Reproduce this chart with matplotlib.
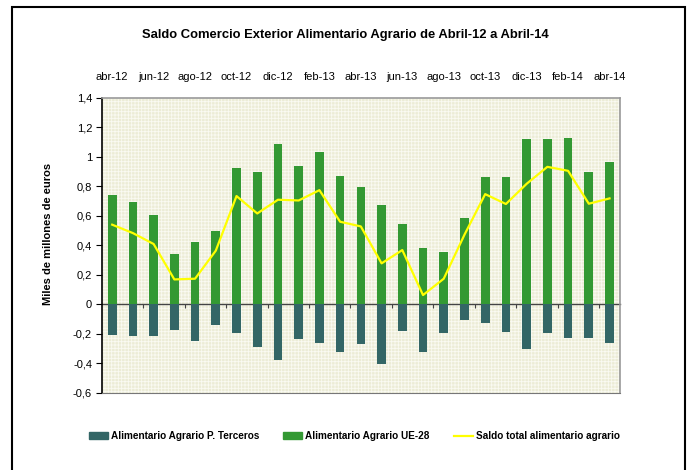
import matplotlib
matplotlib.use("Agg")
import matplotlib.pyplot as plt
from matplotlib.patches import Patch, Rectangle
from matplotlib.lines import Line2D
import numpy as np

# Meses (abr-12 .. abr-14)
meses = ["abr-12", "may-12", "jun-12", "jul-12", "ago-12", "sep-12", "oct-12", "nov-12",
         "dic-12", "ene-13", "feb-13", "mar-13", "abr-13", "may-13", "jun-13", "jul-13",
         "ago-13", "sep-13", "oct-13", "nov-13", "dic-13", "ene-14", "feb-14", "mar-14",
         "abr-14"]

# Miles de millones de euros
ue28 = [0.743, 0.695, 0.607, 0.343, 0.424, 0.499, 0.926, 0.899, 1.088, 0.939, 1.034, 0.872,
        0.797, 0.675, 0.546, 0.384, 0.357, 0.587, 0.865, 0.865, 1.122, 1.122, 1.129, 0.899,
        0.966]
terceros = [-0.205, -0.212, -0.212, -0.172, -0.246, -0.138, -0.192, -0.287, -0.375, -0.233,
            -0.260, -0.321, -0.266, -0.402, -0.178, -0.321, -0.192, -0.104, -0.124, -0.185,
            -0.300, -0.192, -0.226, -0.226, -0.260]
saldo = [0.540, 0.483, 0.409, 0.169, 0.174, 0.364, 0.734, 0.616, 0.709, 0.704, 0.774, 0.560,
         0.528, 0.278, 0.368, 0.063, 0.174, 0.472, 0.747, 0.680, 0.817, 0.932, 0.905, 0.682,
         0.718]

yticks = [-0.6, -0.4, -0.2, 0, 0.2, 0.4, 0.6, 0.8, 1, 1.2, 1.4]
ylabels = ["-0,6", "-0,4", "-0,2", "0", "0,2", "0,4", "0,6", "0,8", "1", "1,2", "1,4"]

verde = "#339933"
teal = "#336666"
amarillo = "#FFFF00"

plt.rcParams["font.family"] = "Liberation Sans"
plt.rcParams["hatch.color"] = "#FAFAF2"
plt.rcParams["hatch.linewidth"] = 0.6

fig = plt.figure(figsize=(6.88, 4.70), dpi=100)
ax = fig.add_axes([0.148, 0.164, 0.753, 0.628])

x = np.arange(len(meses))
ax.bar(x, ue28, width=0.42, color=verde, zorder=2)
ax.bar(x, terceros, width=0.42, color=teal, zorder=2)
ax.plot(x, saldo, color=amarillo, lw=1.6, zorder=4)

ax.set_xlim(-0.5, len(meses) - 0.5)
ax.set_ylim(-0.6, 1.4)
ax.set_yticks(yticks)
ax.set_yticklabels(ylabels, fontsize=8)
ax.tick_params(axis="y", direction="out", length=4, width=0.8, pad=3)

# etiquetas de meses arriba
ax.xaxis.tick_top()
ax.set_xticks(x[::2])
ax.set_xticklabels(meses[::2], fontsize=8)
ax.tick_params(axis="x", length=0, pad=11)

# fondo cuadriculado
ax.set_facecolor("#ECECD6")
ax.patch.set_hatch("+++++")
ax.patch.set_edgecolor("#FAFAF2")

for lado in ["top", "right"]:
    ax.spines[lado].set_color("#999999")
    ax.spines[lado].set_linewidth(1.2)
ax.spines["bottom"].set_color("#777777")
ax.spines["left"].set_color("black")
ax.spines["left"].set_linewidth(1.2)

# linea del cero con marcas
sec = ax.secondary_xaxis(0.3)
sec.set_xticks(np.arange(1.5, len(meses) - 1, 2))
sec.set_xticklabels([])
sec.tick_params(direction="out", length=3, width=0.8, color="#444444")
sec.spines["bottom"].set_color("#444444")
sec.spines["bottom"].set_linewidth(1.0)
sec.spines["bottom"].set_zorder(3)

ax.set_ylabel("Miles de millones de euros", fontsize=8, fontweight="bold")
ax.yaxis.set_label_coords(-0.095, 0.54)

fig.text(0.502, 0.926, "Saldo Comercio Exterior Alimentario Agrario de Abril-12 a Abril-14",
         ha="center", va="center", fontsize=9.4, fontweight="bold")

handles = [Patch(color=teal), Patch(color=verde), Line2D([], [], color=amarillo, lw=1.6)]
etiquetas = ["Alimentario Agrario P. Terceros", "Alimentario Agrario UE-28",
             "Saldo total alimentario agrario"]
fig.legend(handles, etiquetas, loc="center", bbox_to_anchor=(0.515, 0.072), ncol=3,
           frameon=False, prop={"size": 7.2, "weight": "bold"},
           handlelength=1.9, handleheight=0.6, handletextpad=0.3, columnspacing=2.4)

# marco exterior
fig.patches.append(Rectangle((12 / 688, -0.05), (685 - 12) / 688, 1.05 - 7 / 470,
                             transform=fig.transFigure, fill=False, edgecolor="black",
                             linewidth=1.5))

fig.savefig("out.png", dpi=100)
